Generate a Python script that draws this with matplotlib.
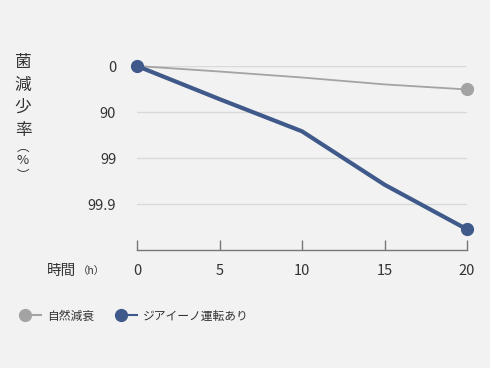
import numpy as np
import matplotlib
matplotlib.use("Agg")
import matplotlib.pyplot as plt
from matplotlib.lines import Line2D
from matplotlib.legend_handler import HandlerLine2D

plt.rcParams['font.family'] = ['Noto Sans CJK JP', 'DejaVu Sans']

# --- data (log reduction: 0 -> 0%, 1 -> 90%, 2 -> 99%, 3 -> 99.9%) ---
hours = [0, 5, 10, 15, 20]
natural = [0, 0.12, 0.25, 0.40, 0.51]
ziaino = [0, 0.72, 1.42, 2.58, 3.55]
y_ticks = [0, 1, 2, 3]
y_labels = ["0", "90", "99", "99.9"]
x_ticks = [0, 5, 10, 15, 20]

BG = "#f2f2f2"
NAVY = "#3f5a8a"
GRAY = "#a3a3a3"
TEXT = "#333333"


class MarkerLeftHandler(HandlerLine2D):
    # marker at the left end of the legend line
    def create_artists(self, legend, orig_handle, xdescent, ydescent,
                       width, height, fontsize, trans):
        y = (height - ydescent) / 2
        x0 = -xdescent + 4.3
        line = Line2D([x0, -xdescent + width], [y, y])
        self.update_prop(line, orig_handle, legend)
        line.set_markevery([0])
        line.set_transform(trans)
        return [line]


fig = plt.figure(figsize=(4.9, 3.68), dpi=100)
fig.patch.set_facecolor(BG)
ax = fig.add_axes([137 / 490, 1 - 250 / 368, 330 / 490, 184 / 368])
ax.set_facecolor(BG)

ax.set_xlim(0, 20)
ax.set_ylim(4.0, 0)
for yt in y_ticks:
    ax.axhline(yt, color="#d9d9d9", linewidth=1, zorder=1)

ax.plot(hours, natural, color=GRAY, linewidth=1.3, zorder=3, clip_on=False)
ax.plot([hours[-1]], [natural[-1]], "o", color=GRAY, markersize=8.5, zorder=4, clip_on=False)
ax.plot(hours, ziaino, color=NAVY, linewidth=3, zorder=5, clip_on=False)
ax.plot([hours[0], hours[-1]], [ziaino[0], ziaino[-1]], "o", color=NAVY,
        markersize=8.5, zorder=6, clip_on=False)

for s in ["top", "right", "left"]:
    ax.spines[s].set_visible(False)
ax.spines["bottom"].set_color("#777777")
ax.spines["bottom"].set_linewidth(1)

ax.set_xticks(x_ticks)
ax.set_xticklabels([str(x) for x in x_ticks])
ax.tick_params(axis="x", direction="in", length=7.5, width=1, color="#777777",
               pad=10, labelsize=10.5, labelcolor=TEXT)
ax.set_yticks(y_ticks)
ax.set_yticklabels(y_labels)
ax.tick_params(axis="y", length=0, pad=15, labelsize=10.5, labelcolor=TEXT)

# vertical y label
ylab_chars = [("菌", 63, 12), ("減", 85, 12), ("少", 107, 12), ("率", 130, 12),
              ("︵", 147, 9), ("%", 161, 9.5), ("︶", 176, 9)]
for ch, ypx, size in ylab_chars:
    fig.text(23 / 490, 1 - ypx / 368, ch, ha="center", va="center",
             fontsize=size, color=TEXT)

# x label
fig.text(47 / 490, 1 - 271 / 368, "時間", ha="left", va="center", fontsize=10.5, color=TEXT)
fig.text(78 / 490, 1 - 271 / 368, "（h）", ha="left", va="center", fontsize=7.5, color=TEXT)

handles = [
    Line2D([], [], color=GRAY, linewidth=1.5, marker="o", markersize=8.5),
    Line2D([], [], color=NAVY, linewidth=1.5, marker="o", markersize=8.5),
]
leg = fig.legend(handles, ["自然減衰", "ジアイーノ運転あり"], ncol=2,
                 loc="center left", bbox_to_anchor=(19 / 490, 1 - 316 / 368),
                 frameon=False, fontsize=8.5, handlelength=1.85, handletextpad=0.5,
                 columnspacing=1.8, labelcolor=TEXT, borderpad=0, borderaxespad=0,
                 handler_map={Line2D: MarkerLeftHandler()})

fig.savefig("out.png", dpi=100, facecolor=BG)
